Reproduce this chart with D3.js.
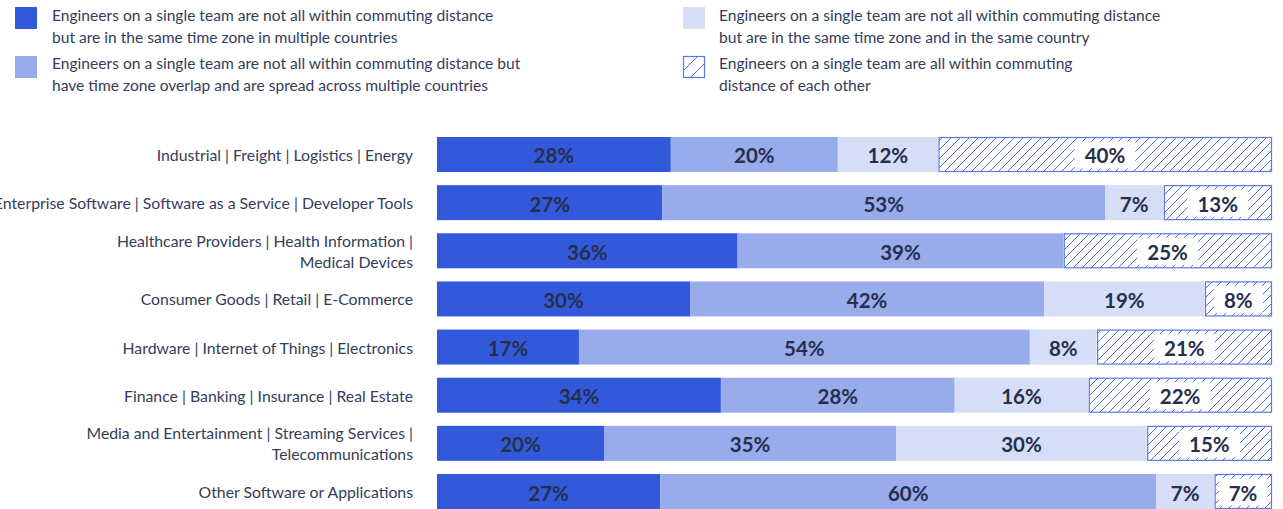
<!DOCTYPE html>
<html>
<head>
<meta charset="utf-8">
<script src="https://cdn.jsdelivr.net/npm/d3@7"></script>
<style>
  html, body { margin: 0; padding: 0; background: #fff; }
  svg { display: block; font-family: Lato, "Open Sans", sans-serif; }
</style>
</head>
<body>
<svg id="chart" width="1283" height="509"></svg>
<script>
// ---- data ----
const categories = [
  ["Industrial | Freight | Logistics | Energy"],
  ["Enterprise Software | Software as a Service | Developer Tools"],
  ["Healthcare Providers | Health Information |", "Medical Devices"],
  ["Consumer Goods | Retail | E-Commerce"],
  ["Hardware | Internet of Things | Electronics"],
  ["Finance | Banking | Insurance | Real Estate"],
  ["Media and Entertainment | Streaming Services |", "Telecommunications"],
  ["Other Software or Applications"]
];
const sameZoneMultiCountry   = [28, 27, 36, 30, 17, 34, 20, 27];
const overlapMultiCountry    = [20, 53, 39, 42, 54, 28, 35, 60];
const sameZoneSameCountry    = [12, 7, 0, 19, 8, 16, 30, 7];
const allWithinCommuting     = [40, 13, 25, 8, 21, 22, 15, 7];

const seriesKeys = ["s1", "s2", "s3", "s4"];
const legendLabels = [
  ["Engineers on a single team are not all within commuting distance", "but are in the same time zone in multiple countries"],
  ["Engineers on a single team are not all within commuting distance but", "have time zone overlap and are spread across multiple countries"],
  ["Engineers on a single team are not all within commuting distance", "but are in the same time zone and in the same country"],
  ["Engineers on a single team are all within commuting", "distance of each other"]
];

const rows = categories.map((c, i) => ({
  idx: i,
  s1: sameZoneMultiCountry[i],
  s2: overlapMultiCountry[i],
  s3: sameZoneSameCountry[i],
  s4: allWithinCommuting[i]
}));

// ---- styles ----
const colors = { s1: "#3359db", s2: "#98acec", s3: "#d6ddf7" };
const hatchColor = "#4a6de2";
const textColor = "#343d5b";
const valueColor = "#252e4c";

const svg = d3.select("#chart");
const defs = svg.append("defs");
const pat = defs.append("pattern")
  .attr("id", "hatch").attr("patternUnits", "userSpaceOnUse")
  .attr("width", 9).attr("height", 9);
pat.append("rect").attr("width", 9).attr("height", 9).attr("fill", "#fff");
pat.append("path")
  .attr("d", "M-1,1 L1,-1 M0,9 L9,0 M8,10 L10,8")
  .attr("stroke", hatchColor).attr("stroke-width", 1);

// ---- scales ----
const x = d3.scaleLinear().domain([0, 1]).range([437, 1272]);
const y = d3.scaleBand().domain(d3.range(categories.length))
  .range([137, 509]).paddingInner(0.273).paddingOuter(0);

const stacked = d3.stack().keys(seriesKeys).offset(d3.stackOffsetExpand)(rows);

// ---- bars ----
stacked.forEach(layer => {
  const key = layer.key;
  const g = svg.append("g");
  layer.forEach((seg, i) => {
    const val = rows[i][key];
    if (val <= 0) return;
    const x0 = x(seg[0]), x1 = x(seg[1]);
    const yy = y(i), h = y.bandwidth();
    if (key === "s4") {
      g.append("rect")
        .attr("x", x0 + 1).attr("y", yy + 0.5)
        .attr("width", x1 - x0 - 1.5).attr("height", h - 1)
        .attr("fill", "url(#hatch)")
        .attr("stroke", "#5a79e3").attr("stroke-width", 1.2);
    } else {
      g.append("rect")
        .attr("x", x0).attr("y", yy)
        .attr("width", x1 - x0).attr("height", h)
        .attr("fill", colors[key]);
    }
  });
});

// ---- value labels ----
stacked.forEach(layer => {
  const key = layer.key;
  layer.forEach((seg, i) => {
    const val = rows[i][key];
    if (val <= 0) return;
    const cx = (x(seg[0]) + x(seg[1])) / 2;
    const cy = y(i) + y.bandwidth() / 2;
    const label = val + "%";
    const t = svg.append("text")
      .attr("x", cx).attr("y", cy + 1)
      .attr("text-anchor", "middle")
      .attr("dominant-baseline", "central")
      .attr("font-size", 20.5).attr("font-weight", 700)
      .attr("fill", valueColor)
      .text(label);
    if (key === "s4") {
      const bb = t.node().getBBox();
      svg.insert("rect", () => t.node())
        .attr("x", bb.x - 10).attr("y", cy - 13)
        .attr("width", bb.width + 20).attr("height", 27)
        .attr("fill", "#fff");
    }
  });
});

// ---- category labels ----
categories.forEach((lines, i) => {
  const cy = y(i) + y.bandwidth() / 2;
  const lh = 21;
  const t = svg.append("text")
    .attr("text-anchor", "end")
    .attr("font-size", 15.8)
    .attr("fill", textColor);
  lines.forEach((ln, j) => {
    t.append("tspan")
      .attr("x", 413)
      .attr("y", cy + (j - (lines.length - 1) / 2) * lh)
      .attr("dominant-baseline", "central")
      .text(ln);
  });
});

// ---- legend ----
const legendPos = [
  { sx: 15, sy: 7, tx: 52, ty: 15 },
  { sx: 15, sy: 56, tx: 52, ty: 63 },
  { sx: 683, sy: 7, tx: 719, ty: 15 },
  { sx: 683, sy: 56, tx: 719, ty: 63 }
];
seriesKeys.forEach((key, k) => {
  const p = legendPos[k];
  if (key === "s4") {
    svg.append("rect").attr("x", p.sx + 0.5).attr("y", p.sy + 0.5)
      .attr("width", 21).attr("height", 21)
      .attr("fill", "#fff").attr("stroke", "#5a79e3").attr("stroke-width", 1.2);
    svg.append("path")
      .attr("d", `M${p.sx + 1},${p.sy + 14} L${p.sx + 14},${p.sy + 1} M${p.sx + 8},${p.sy + 21} L${p.sx + 21},${p.sy + 8}`)
      .attr("stroke", hatchColor).attr("stroke-width", 1);
  } else {
    svg.append("rect").attr("x", p.sx).attr("y", p.sy)
      .attr("width", 22).attr("height", 22).attr("fill", colors[key]);
  }
  const t = svg.append("text").attr("font-size", 15.6).attr("fill", textColor);
  legendLabels[k].forEach((ln, j) => {
    t.append("tspan").attr("x", p.tx).attr("y", p.ty + j * 21.5)
      .attr("dominant-baseline", "central").text(ln);
  });
});
</script>
</body>
</html>
